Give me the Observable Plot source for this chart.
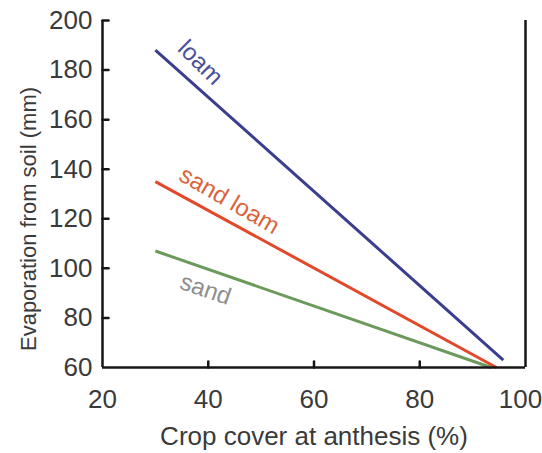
<!DOCTYPE html>
<html>
<head>
<meta charset="utf-8">
<script src="https://cdn.jsdelivr.net/npm/d3@7"></script>
<script src="https://cdn.jsdelivr.net/npm/@observablehq/plot@0.6"></script>
<style>
  html, body { margin: 0; padding: 0; background: #fff; }
  #chart svg { display: block; }
</style>
</head>
<body>
<div id="chart"></div>
<script>
// Soil evaporation vs crop cover at anthesis, one fitted line per soil type
const soils = ["loam", "sand loam", "sand"];
const coverStart = [30, 30, 30];
const coverEnd = [95.8, 94.5, 93.5];
const evapStart = [188, 135, 107];
const evapEnd = [63, 60, 60];

const xTicks = [20, 40, 60, 80, 100];
const yTicks = [60, 80, 100, 120, 140, 160, 180, 200];

const lineColors = ["#3b3d8e", "#e2482b", "#6b9a5c"];
const labelColors = ["#4a4f98", "#d9653c", "#8e8e8e"];

// line labels: text, anchor (data units) and rotation along the line
const labels = [
  {soil: "loam", x: 38.5, y: 183, angle: 45},
  {soil: "sand loam", x: 44, y: 127.4, angle: 30},
  {soil: "sand", x: 39.5, y: 91.5, angle: 19}
];

const segments = soils.flatMap((s, i) => [
  {soil: s, cover: coverStart[i], evap: evapStart[i]},
  {soil: s, cover: coverEnd[i], evap: evapEnd[i]}
]);

const colorOf = s => lineColors[soils.indexOf(s)];
const labelColorOf = s => labelColors[soils.indexOf(s)];

// short inward tick drawn from the anchor point
const tickShape = {draw(context, l) { context.moveTo(0, 0); context.lineTo(0, -l); }};

const axisColor = "#161616";
const textColor = "#3a3a3a";
const font = "'Liberation Sans', Arial, Helvetica, sans-serif";

const chart = Plot.plot({
  width: 542,
  height: 453,
  marginLeft: 102,
  marginRight: 17,
  marginTop: 20,
  marginBottom: 86,
  style: {fontFamily: font, fontSize: "25px", color: textColor, background: "#fff"},
  x: {domain: [20, 100]},
  y: {domain: [60, 200]},
  marks: [
    Plot.axisX({ticks: xTicks.filter(v => v < 100), tickSize: 0, tickPadding: 22, fontSize: 26, label: null, fill: textColor}),
    // the last label sits slightly inside the right edge
    Plot.axisX({ticks: [100], tickSize: 0, tickPadding: 22, fontSize: 26, label: null, fill: textColor, dx: -5}),
    Plot.axisY({ticks: yTicks, tickSize: 0, tickPadding: 10, fontSize: 26, label: null, fill: textColor}),
    // inward ticks
    Plot.vector(yTicks.filter(v => v > 60), {x: 20, y: d => d, length: 6, rotate: 90, anchor: "start", shape: tickShape, stroke: axisColor, strokeWidth: 2.5}),
    Plot.vector(xTicks.filter(v => v > 20 && v < 100), {x: d => d, y: 60, length: 6, rotate: 0, anchor: "start", shape: tickShape, stroke: axisColor, strokeWidth: 2.5}),
    // data lines
    Plot.line(segments, {x: "cover", y: "evap", z: "soil", stroke: d => colorOf(d.soil), strokeWidth: 3, strokeLinecap: "butt"}),
    // frame: left, right and bottom
    Plot.ruleX([20, 100], {y1: 60, y2: 200, stroke: axisColor, strokeWidth: 2.5}),
    Plot.ruleY([60], {x1: 20, x2: 100, stroke: axisColor, strokeWidth: 2.5}),
    // line labels
    Plot.text(labels, {x: "x", y: "y", text: "soil", rotate: "angle", fill: d => labelColorOf(d.soil), fontSize: 24}),
    // axis titles
    Plot.text(["Crop cover at anthesis (%)"], {text: d => d, frameAnchor: "bottom", textAnchor: "middle", lineAnchor: "middle", dy: 69, fontSize: 26, fill: textColor}),
    Plot.text(["Evaporation from soil (mm)"], {text: d => d, frameAnchor: "left", textAnchor: "middle", lineAnchor: "middle", rotate: -90, dx: -74, dy: 25, fontSize: 22, fill: textColor})
  ]
});

document.getElementById("chart").appendChild(chart);
</script>
</body>
</html>
